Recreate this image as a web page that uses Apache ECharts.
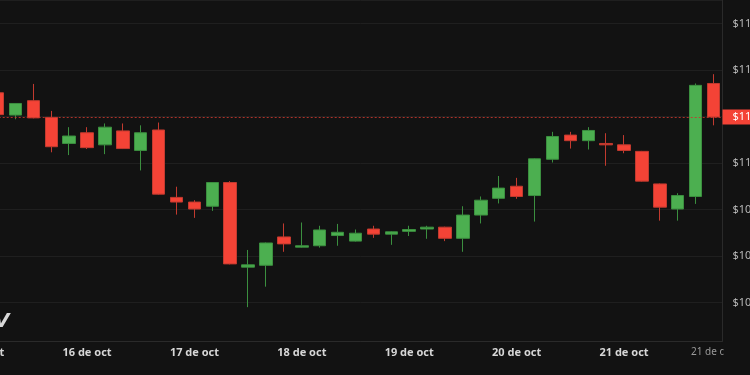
<!DOCTYPE html>
<html>
<head>
<meta charset="utf-8">
<script src="https://cdn.jsdelivr.net/npm/echarts@6/dist/echarts.min.js"></script>
<style>
html,body{margin:0;padding:0;background:#121212;}
#chart{width:750px;height:375px;}
</style>
</head>
<body>
<div id="chart"></div>
<script>
// Day labels shown on the time axis (one label every 6 four-hour candles)
const dayLabels = ['15 de oct','16 de oct','17 de oct','18 de oct','19 de oct','20 de oct','21 de oct'];
const hours = ['00:00','04:00','08:00','12:00','16:00','20:00'];
const crosshairLabel = '21 de oct';

// 4h candles, starting 15 oct 04:00
const opens  = [111.51,111.03,111.34,110.98,110.42,110.65,110.39,110.69,110.27,110.71,
                109.26,109.16,109.07,109.58,107.76,107.80,108.41,108.19,108.22,108.44,
                108.32,108.58,108.47,108.53,108.58,108.62,108.38,108.88,109.24,109.50,
                109.30,110.08,110.60,110.48,110.42,110.39,110.25,109.55,109.01,109.28,
                111.71];
const closes = [111.04,111.28,110.97,110.35,110.58,110.33,110.77,110.31,110.65,109.33,
                109.16,109.01,109.58,107.83,107.81,108.28,108.26,108.22,108.56,108.51,
                108.49,108.47,108.52,108.57,108.62,108.38,108.88,109.20,109.46,109.28,
                110.09,110.57,110.48,110.70,110.39,110.27,109.61,109.05,109.30,111.67,
                110.99];
const lows   = [111.02,110.94,110.96,110.23,110.17,110.30,110.19,110.30,109.84,109.32,
                108.89,108.82,108.97,107.82,106.90,107.34,108.09,108.18,108.18,108.22,
                108.31,108.39,108.24,108.43,108.37,108.32,108.09,108.70,109.13,109.23,
                108.74,110.01,110.31,110.29,109.94,110.21,109.60,108.76,108.76,109.12,
                110.81];
const highs  = [111.53,111.29,111.70,111.12,110.77,110.77,110.85,110.85,110.81,110.87,
                109.49,109.20,109.59,109.61,108.13,108.29,108.70,108.72,108.65,108.69,
                108.57,108.65,108.53,108.65,108.65,108.63,109.07,109.28,109.72,109.68,
                110.10,110.67,110.67,110.77,110.64,110.60,110.26,109.56,109.35,111.71,
                111.91];
const lastPrice = 110.99;
const yTicks = [107,108,109,110,111,112,113];

const categories = [];
dayLabels.forEach(d => hours.forEach(h => categories.push(d + ' ' + h)));

const candles = opens.map((o, i) => [i + 1, o, closes[i], lows[i], highs[i]]);

const chart = echarts.init(document.getElementById('chart'), null, {renderer: 'canvas'});
chart.setOption({
  backgroundColor: '#121212',
  animation: false,
  grid: {left: -29.3, right: 27.5, top: 0, bottom: 34, containLabel: false, outerBoundsMode: 'none'},
  xAxis: {
    type: 'category',
    data: categories,
    boundaryGap: true,
    axisLine: {show: true, lineStyle: {color: '#2a2a2a'}},
    axisTick: {show: false},
    splitLine: {show: false},
    axisLabel: {
      interval: 0,
      margin: 6,
      color: '#d6d6d6',
      fontSize: 11,
      fontWeight: 'bold',
      fontFamily: 'Noto Sans',
      formatter: v => v.endsWith(' 00:00') ? v.replace(' 00:00', '') : ''
    }
  },
  yAxis: {
    type: 'value',
    position: 'right',
    min: 106.172,
    max: 113.505,
    splitNumber: 7,
    axisLine: {show: true, lineStyle: {color: '#2a2a2a'}},
    axisTick: {show: false},
    splitLine: {show: true, lineStyle: {color: '#1f1f1f', width: 1}},
    axisLabel: {
      showMinLabel: false,
      showMaxLabel: false,
      margin: 10,
      color: '#b8b8b8',
      fontSize: 11,
      fontFamily: 'Noto Sans',
      formatter: v => yTicks.includes(Math.round(v * 100) / 100) ? '$' + v.toFixed(2) : ''
    }
  },
  series: [{
    type: 'candlestick',
    data: candles,
    encode: {x: 0, y: [1, 2, 3, 4]},
    barWidth: 13,
    itemStyle: {
      color: '#4caf50',
      color0: '#f44336',
      borderColor: '#3b8f3f',
      borderColor0: '#c23a2f',
      borderWidth: 1
    },
    markLine: {
      silent: true,
      symbol: ['none', 'none'],
      lineStyle: {color: 'rgba(200,55,45,0.85)', type: [2, 2], width: 1},
      label: {
        show: true,
        position: 'end',
        distance: 0,
        formatter: () => '$' + lastPrice.toFixed(2),
        backgroundColor: '#f44336',
        color: '#ffffff',
        fontSize: 11,
        fontFamily: 'Noto Sans',
        padding: [2, 4, 2, 10]
      },
      data: [{yAxis: lastPrice}]
    }
  }],
  graphic: [
    {
      type: 'text',
      left: 691, top: 347,
      z: 10,
      style: {
        text: crosshairLabel, fill: '#9a9a9a', fontSize: 10, fontFamily: 'Noto Sans'
      }
    },
    {
      type: 'rect',
      z: 11,
      shape: {x: 723.5, y: 343, width: 30, height: 22},
      style: {fill: '#121212'}
    },
    {
      type: 'text',
      left: -6, top: 312,
      style: {
        text: 'V', fill: '#d8d8d8', fontSize: 20, fontWeight: 900,
        fontStyle: 'italic', fontFamily: 'DejaVu Sans'
      }
    }
  ]
});
</script>
</body>
</html>
